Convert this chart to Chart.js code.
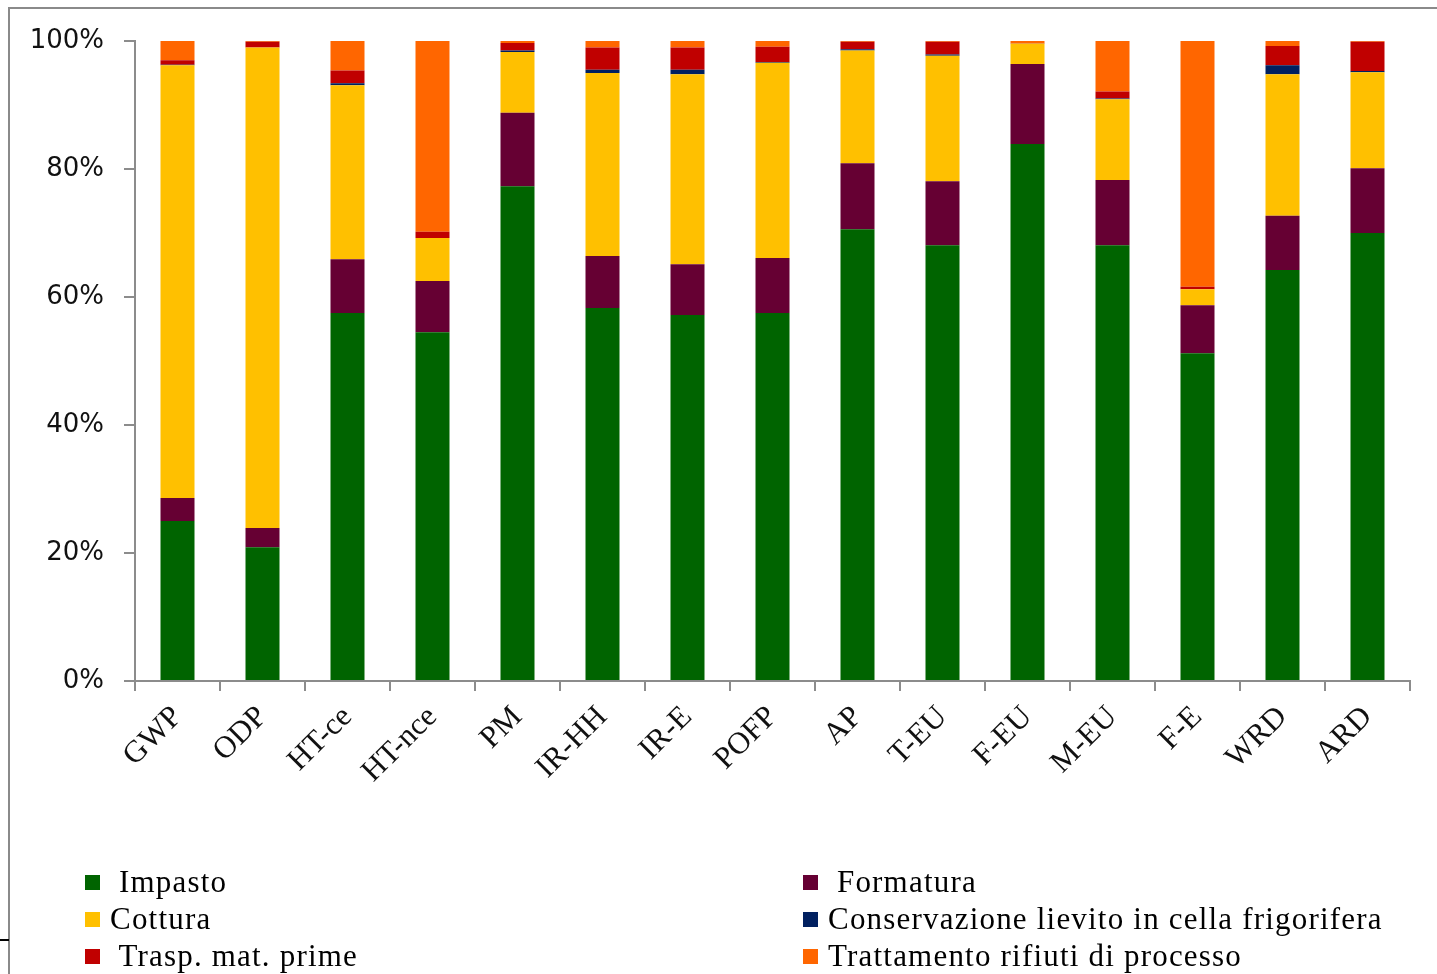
<!DOCTYPE html>
<html>
<head>
<meta charset="utf-8">
<script src="https://cdn.jsdelivr.net/npm/chart.js@4/dist/chart.umd.min.js"></script>
<style>
  html, body { margin: 0; padding: 0; background: #fff; }
  #wrap { position: relative; width: 1437px; height: 974px; overflow: hidden; }
  #chart { position: absolute; left: 0; top: 0; }
  .frame-top { position: absolute; left: 9px; top: 7px; width: 1428px; height: 2px; background: #8a8a8a; }
  .frame-left { position: absolute; left: 8px; top: 7px; width: 2px; height: 967px; background: #8a8a8a; }
  .edge-mark { position: absolute; left: 0; top: 939px; width: 9px; height: 2px; background: #000; }
  #legend { position: absolute; left: 0; top: 0; width: 1437px; height: 974px; pointer-events: none; }
  .lg-item { position: absolute; display: flex; align-items: center; height: 36px;
             font-family: "Liberation Serif", "Times New Roman", serif; font-size: 31px;
             color: #000; white-space: pre; letter-spacing: 1.2px; }
  .lg-box { width: 15px; height: 15px; margin-right: 10px; flex: none; }
</style>
</head>
<body>
<div id="wrap">
  <canvas id="chart" width="1437" height="974"></canvas>
  <div class="frame-top"></div>
  <div class="frame-left"></div>
  <div class="edge-mark"></div>
  <div id="legend"></div>
</div>
<script>
// Impact categories
const categories = ['GWP', 'ODP', 'HT-ce', 'HT-nce', 'PM', 'IR-HH', 'IR-E', 'POFP',
                    'AP', 'T-EU', 'F-EU', 'M-EU', 'F-E', 'WRD', 'ARD'];

// Contribution of each process phase (% of the category total)
const impasto      = [25.0, 20.9, 57.5, 54.5, 77.3, 58.3, 57.2, 57.5, 70.6, 68.1, 83.9, 68.1, 51.2, 64.2, 70.0];
const formatura    = [ 3.6,  3.0,  8.4,  8.0, 11.5,  8.1,  7.9,  8.6, 10.3, 10.0, 12.5, 10.2,  7.5,  8.5, 10.1];
const cottura      = [67.6, 75.1, 27.2,  6.7,  9.5, 28.6, 29.7, 30.5, 17.6, 19.6,  3.2, 12.6,  2.5, 22.1, 15.0];
const conservazione= [ 0.1,  0.0,  0.3,  0.0,  0.2,  0.5,  0.7,  0.1,  0.2,  0.2,  0.0,  0.1,  0.0,  1.4,  0.2];
const trasporto    = [ 0.7,  0.9,  2.0,  1.0,  1.2,  3.5,  3.5,  2.4,  1.2,  2.0,  0.1,  1.1,  0.4,  3.0,  4.6];
const trattamento  = [ 3.0,  0.1,  4.6, 29.8,  0.3,  1.0,  1.0,  0.9,  0.1,  0.1,  0.3,  7.9, 38.4,  0.8,  0.1];

// Series names, stacked bottom to top
const seriesNames = [' Impasto', ' Formatura', 'Cottura',
                     'Conservazione lievito in cella frigorifera',
                     ' Trasp. mat. prime', 'Trattamento rifiuti di processo'];
const seriesColors = ['#006400', '#660033', '#FFC000', '#002060', '#C00000', '#FF6600'];

// Y-axis tick labels
const yTicks = [0, 20, 40, 60, 80, 100];
const yTickLabels = ['0%', '20%', '40%', '60%', '80%', '100%'];

const seriesValues = [impasto, formatura, cottura, conservazione, trasporto, trattamento];

// Normalise each column to 100% (100% stacked columns)
const totals = categories.map((_, i) => seriesValues.reduce((s, arr) => s + arr[i], 0));
const datasets = seriesValues.map((arr, k) => ({
  label: seriesNames[k],
  data: arr.map((v, i) => v / totals[i] * 100),
  backgroundColor: seriesColors[k],
  borderWidth: 0,
  categoryPercentage: 1.0,
  barPercentage: 0.4
}));

const axisGrey = '#8c8c8c';

const chart = new Chart(document.getElementById('chart'), {
  type: 'bar',
  data: { labels: categories, datasets },
  options: {
    responsive: false,
    animation: false,
    events: [],
    layout: { padding: { left: 0, right: 27, top: 41, bottom: 0 } },
    plugins: { legend: { display: false }, tooltip: { enabled: false } },
    scales: {
      x: {
        stacked: true,
        offset: true,
        grid: { offset: true, drawOnChartArea: false, drawTicks: true, tickLength: 10,
                color: axisGrey, lineWidth: 2 },
        border: { display: true, color: axisGrey, width: 2 },
        ticks: {
          autoSkip: false, minRotation: 45, maxRotation: 45, padding: 8,
          color: '#111',
          font: { family: '"Liberation Serif", "Times New Roman", serif', size: 31 }
        },
        afterFit: (s) => { s.height = 293; }
      },
      y: {
        stacked: true,
        min: 0, max: 100,
        afterBuildTicks: (s) => { s.ticks = yTicks.map(v => ({ value: v })); },
        grid: { drawOnChartArea: false, drawTicks: true, tickLength: 11,
                color: axisGrey, lineWidth: 2 },
        border: { display: true, color: axisGrey, width: 2 },
        ticks: {
          padding: 20,
          color: '#111',
          font: { family: '"DejaVu Sans", sans-serif', size: 26 },
          callback: (v) => yTickLabels[yTicks.indexOf(v)]
        },
        afterFit: (s) => { s.width = 135; }
      }
    }
  }
});

// Two-column legend below the plot, in dataset order (row by row)
const legendEl = document.getElementById('legend');
const colX = [85, 803];
const rowY = [882, 919, 956];
chart.data.datasets.forEach((ds, i) => {
  const item = document.createElement('div');
  item.className = 'lg-item';
  item.style.left = colX[i % 2] + 'px';
  item.style.top = (rowY[Math.floor(i / 2)] - 18) + 'px';
  const box = document.createElement('span');
  box.className = 'lg-box';
  box.style.background = ds.backgroundColor;
  const txt = document.createElement('span');
  txt.textContent = ds.label;
  item.appendChild(box);
  item.appendChild(txt);
  legendEl.appendChild(item);
});
</script>
</body>
</html>
